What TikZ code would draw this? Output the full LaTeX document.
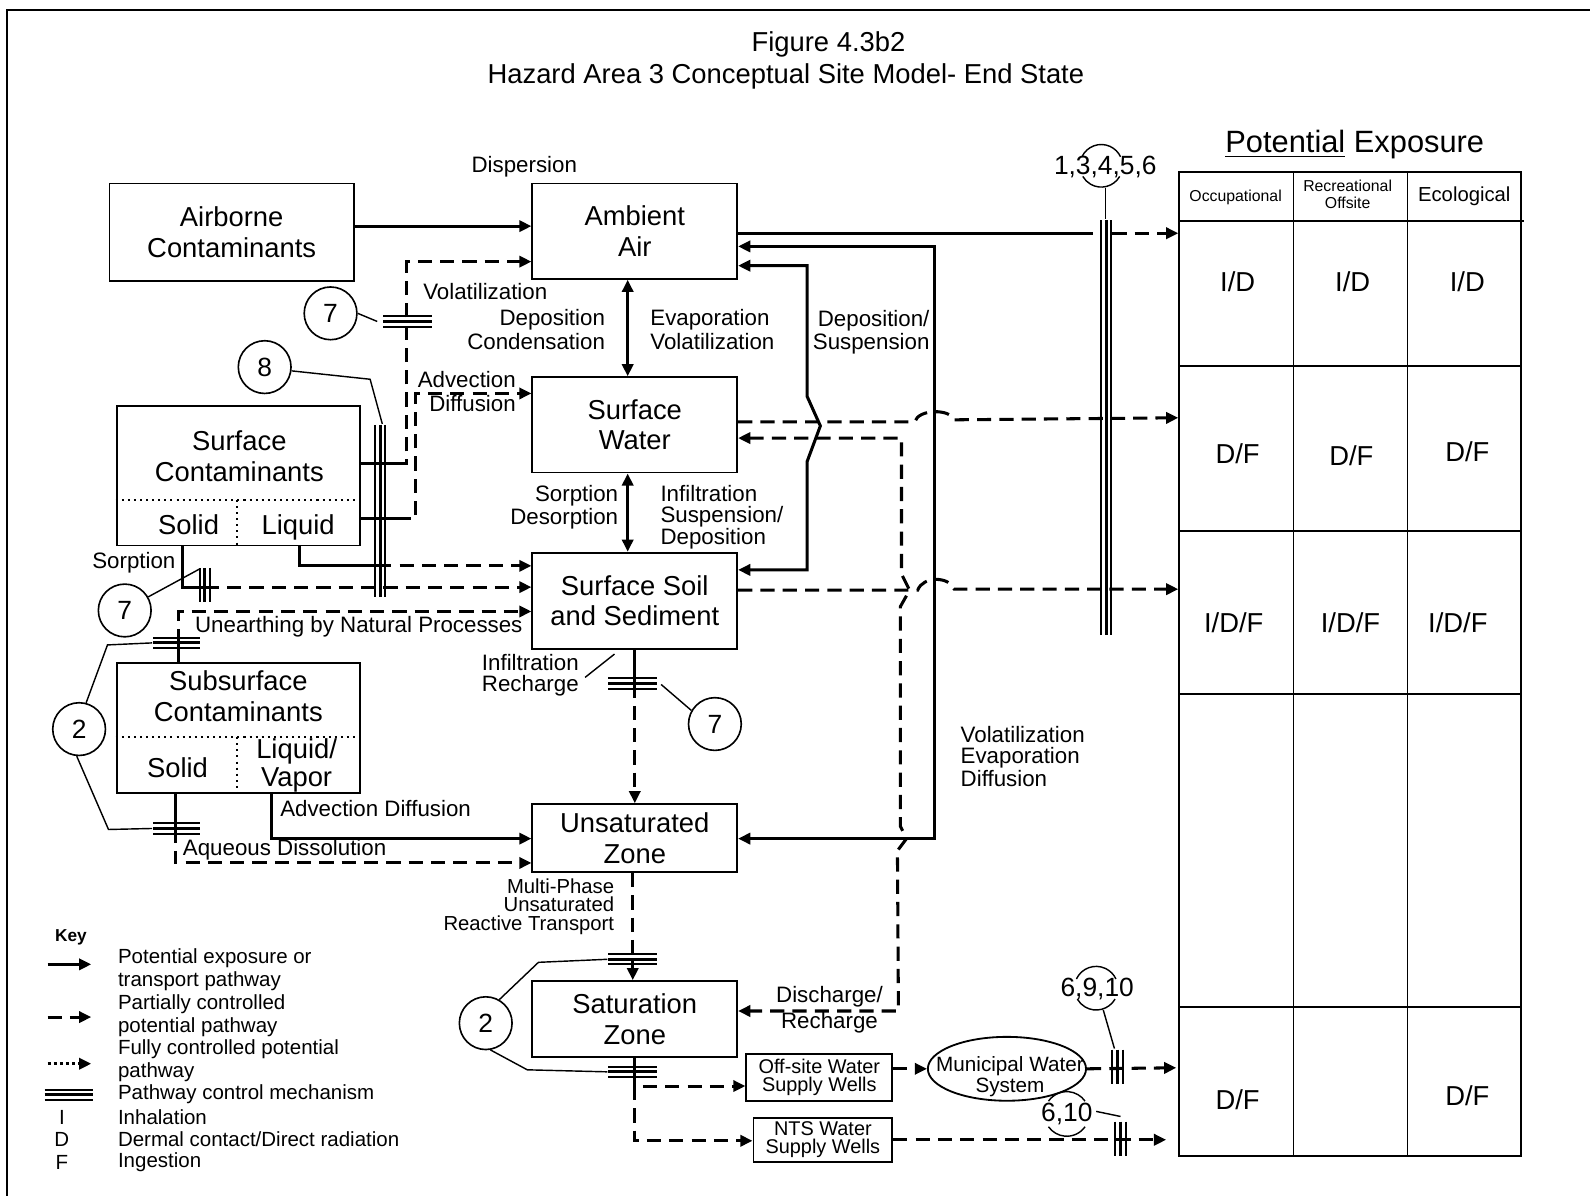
\documentclass[tikz,border=0pt]{standalone}
\usepackage{fontspec}
\setmainfont{Liberation Sans}
\usetikzlibrary{arrows.meta,shapes.geometric}
\newcommand\fsz[2]{\fontsize{#1}{#2}\selectfont}
\newcommand\bxf{\fsz{13.5}{15}}
\newcommand\lbf{\fsz{11}{12}}
\newcommand\cbarh[3]{%
  \draw[line width=1pt] ({#1-#3},{#2-5}) -- ({#1+#3},{#2-5});
  \draw[line width=1.4pt] ({#1-#3},{#2}) -- ({#1+#3},{#2});
  \draw[line width=1pt] ({#1-#3},{#2+5}) -- ({#1+#3},{#2+5});}
\newcommand\cbarv[3]{%
  \draw[line width=1pt] ({#1-5},{#2-#3}) -- ({#1-5},{#2+#3});
  \draw[line width=1.4pt] ({#1},{#2-#3}) -- ({#1},{#2+#3});
  \draw[line width=1pt] ({#1+5},{#2-#3}) -- ({#1+5},{#2+#3});}
\begin{document}
\begin{tikzpicture}[x=0.5pt,y=-0.5pt,
  box/.style={draw, line width=0.9pt, inner sep=0pt, align=center, font=\bxf},
  lab/.style={inner sep=0pt, font=\lbf},
  sline/.style={line width=1.5pt},
  dline/.style={line width=1.5pt, dash pattern=on 7pt off 4pt},
  tip/.style={-{Triangle[length=6pt,width=5.5pt]}},
  sarrow/.style={sline, tip},
  darrow/.style={dline, tip},
  both/.style={sline, {Triangle[length=6pt,width=5.5pt]}-{Triangle[length=6pt,width=5.5pt]}},
  dboth/.style={dline, {Triangle[length=6pt,width=5.5pt]}-{Triangle[length=6pt,width=5.5pt]}},
  dotarrow/.style={line width=1.5pt, dash pattern=on 1.5pt off 1.5pt, tip},
  leader/.style={line width=0.7pt},
  numc/.style={circle, draw, line width=0.8pt, minimum size=26pt, inner sep=0pt, font=\fsz{13}{15}},
  grid/.style={line width=0.9pt},
  cell/.style={inner sep=0pt, font=\fsz{13.5}{15}},
  keyt/.style={inner sep=0pt, anchor=west, font=\fsz{10.1}{11}}]
\useasboundingbox (0,0) rectangle (1568,1179);
\fill[white] (0,0) rectangle (1568,1179);

% frame
\draw[line width=1pt] (7,1179) -- (7,10) -- (1568,10);

% title
\node[lab, font=\fsz{13.5}{15}] (fig) at (817,44) {Figure 4.3b2};
\node[lab, font=\fsz{13.5}{15}] (title) at (775,75) {Hazard Area 3 Conceptual Site Model- End State};

% boxes
\node[box, minimum width=120.5pt, minimum height=48pt] (airborne) at (228.5,229) {Airborne\\Contaminants};
\node[box, minimum width=101pt, minimum height=47pt] (air) at (626,228) {Ambient\\Air};
\node[box, minimum width=101pt, minimum height=47pt] (sw) at (626,419) {Surface\\Water};
\node[box, minimum width=101pt, minimum height=47.5pt] (soil) at (626,592.5) {Surface Soil\\and Sediment};
\node[box, minimum width=120pt, minimum height=69pt] (surfc) at (235,469) {};
\node[box, minimum width=120pt, minimum height=64pt] (subc) at (235,718) {};
\node[box, minimum width=101pt, minimum height=33.5pt] (unsat) at (626,826.5) {Unsaturated\\Zone};
\node[box, minimum width=101pt, minimum height=37.5pt] (sat) at (626,1005) {Saturation\\Zone};
\node[box, font=\fsz{9.8}{8.8}, minimum width=72pt, minimum height=23.5pt] (offw) at (808,1062.5) {Off-site Water\\Supply Wells};
\node[box, font=\fsz{9.8}{8.8}, minimum width=68.5pt, minimum height=21.8pt] (ntsw) at (811.5,1124) {NTS Water\\Supply Wells};
\node[ellipse, draw, line width=0.9pt, minimum width=78pt, minimum height=31.5pt, inner sep=0pt] (muni) at (993,1054) {};
\node[lab, font=\fsz{10.2}{7.8}, align=center] (munit) at (996,1062) {Municipal Water\\System};

% surface contaminants contents
\node[lab, font=\bxf, align=center] (surft) at (236,450) {Surface\\Contaminants};
\draw[dotted, line width=1pt] (surfc.west |- 0,493) -- (surfc.east |- 0,493);
\draw[dotted, line width=1pt] (234,493) -- (234,0 |- surfc.south);
\node[lab, font=\bxf] (surfs) at (186,517) {Solid};
\node[lab, font=\bxf] (surfl) at (294,520) {Liquid};

% subsurface contaminants contents
\node[lab, font=\bxf, align=center] (subt) at (235,686.5) {Subsurface\\Contaminants};
\draw[dotted, line width=1pt] (subc.west |- 0,727) -- (subc.east |- 0,727);
\draw[dotted, line width=1pt] (234,727) -- (234,786);
\node[lab, font=\bxf] (subs) at (175,757) {Solid};
\node[lab, font=\fsz{13.5}{13.5}, align=center] (subl) at (292.5,755) {Liquid/\\Vapor};

% labels
\node[lab] (disp) at (517,164) {Dispersion};
\node[lab, anchor=west] (vol1) at (417,287) {Volatilization};
\node[lab, anchor=east, align=right] (depc) at (597,325) {Deposition\\Condensation};
\node[lab, anchor=west, align=left] (evap) at (641,325) {Evaporation\\Volatilization};
\node[lab, anchor=east, align=right, font=\fsz{11}{10}] (depsus) at (917,328) {Deposition/\\Suspension};
\node[lab, anchor=east, align=right, font=\fsz{11}{11.5}] (advd) at (509,386) {Advection\\Diffusion};
\node[lab, anchor=east, align=right, font=\fsz{11}{10}] (sorp) at (610,500.5) {Sorption\\Desorption};
\node[lab, anchor=west, align=left, font=\fsz{11}{10}] (infs) at (651,510.5) {Infiltration\\Suspension/\\Deposition};
\node[lab] (sorp2) at (132,555) {Sorption};
\node[lab, anchor=west] (unearth) at (192,618) {Unearthing by Natural Processes};
\node[lab, align=center, font=\fsz{11}{10.3}] (infr) at (523,665.5) {Infiltration\\Recharge};
\node[lab, anchor=west] (advd2) at (276,797) {Advection Diffusion};
\node[lab, anchor=west] (aqd) at (180,838) {Aqueous Dissolution};
\node[lab, anchor=west, align=left, font=\fsz{11}{10}] (ved) at (947,746) {Volatilization\\Evaporation\\Diffusion};
\node[lab, anchor=east, align=right, font=\fsz{10}{9}] (mpu) at (606,894) {Multi-Phase\\Unsaturated\\Reactive Transport};
\node[lab, align=center, font=\fsz{11}{13}] (disr) at (818,996) {Discharge/\\Recharge};

% numbered circles
\node[numc] (c7a) at (326,309) {7};
\node[numc] (c8) at (261,362) {8};
\node[numc] (c7b) at (123,602) {7};
\node[numc] (c2a) at (78,719) {2};
\node[numc] (c7c) at (705,714) {7};
\node[numc] (c2b) at (479,1009) {2};

% table
\coordinate (tA) at (1162,230);
\coordinate (tB) at (1162,412);
\coordinate (tC) at (1162,581);
\coordinate (tD) at (1160,1053);
\coordinate (tE) at (1150,1124);
\draw[grid] (1163,170) rectangle (1500,1140);
\draw[grid] (1163,218) -- (1503,218);
\draw[grid] (1163,361) -- (1500,361);
\draw[grid] (1163,524) -- (1500,524);
\draw[grid] (1163,684) -- (1500,684);
\draw[grid] (1163,993) -- (1500,993);
\draw[grid] (1275.5,170) -- (1275.5,1140);
\draw[grid] (1388,170) -- (1388,1140);
\node[lab, font=\fsz{15.2}{17}] (pexp) at (1336,143) {\underline{Potential} Exposure};
\node[lab, font=\fsz{7.8}{8.5}] (hocc) at (1218.5,195) {Occupational};
\node[lab, font=\fsz{7.8}{8.5}, align=center] (hrec) at (1329,192) {Recreational\\Offsite};
\node[lab, font=\fsz{10}{12}] (heco) at (1444,193.5) {Ecological};
\node[cell] (c11) at (1220.5,278) {I/D};
\node[cell] (c12) at (1334,278) {I/D};
\node[cell] (c13) at (1447,278) {I/D};
\node[cell] (c21) at (1220.5,447) {D/F};
\node[cell] (c22) at (1332.6,449.5) {D/F};
\node[cell] (c23) at (1447,445.5) {D/F};
\node[cell] (c31) at (1216.7,614) {I/D/F};
\node[cell] (c32) at (1331.8,614) {I/D/F};
\node[cell] (c33) at (1437.7,614) {I/D/F};
\node[cell] (c51) at (1220.5,1084) {D/F};
\node[cell] (c53) at (1447,1081) {D/F};

% exposure reference labels
\node[lab, font=\fsz{13}{15}] (e1) at (1090,165) {1,3,4,5,6};
\draw[leader] (1086,163.5) ++(205:21) arc[start angle=205, end angle=335, radius=21];
\draw[leader] (1086,163.5) ++(30:21) arc[start angle=30, end angle=150, radius=21];
\node[lab, font=\fsz{13}{15}] (e2) at (1082,975) {6,9,10};
\draw[leader] (1081,974.5) ++(205:21.5) arc[start angle=205, end angle=335, radius=21.5];
\draw[leader] (1081,974.5) ++(30:21.5) arc[start angle=30, end angle=150, radius=21.5];
\node[lab, font=\fsz{13}{15}] (e3) at (1052,1099) {6,10};
\draw[leader] (1052,1098.5) ++(215:22) arc[start angle=215, end angle=325, radius=22];
\draw[leader] (1052,1098.5) ++(35:22) arc[start angle=35, end angle=145, radius=22];

% connectors
\draw[sarrow] ([yshift=3pt]airborne.east) -- ([yshift=3pt]airborne.east -| air.west);
\draw[sline] (air.east |- tA) -- (1078,230);
\draw[darrow] (1097,230) -- (tA);
\draw[darrow] (sw.east |- 0,416) -- (902,416) .. controls (906,403) and (937,403) .. (941,414) -- (tB);
\draw[darrow] (soil.east |- 0,582) -- (905,582) .. controls (910,568) and (936,568) .. (941,581) -- (tC);
\draw[both] (air.east |- 0,243) -- (922,243) -- (922,827) -- (unsat.east |- 0,827);
\draw[both] (air.east |- 0,262) -- (796,262) -- (796,391) -- (809,420) -- (796,455) -- (796,562) -- (soil.east |- 0,562);
\draw[dboth] (sw.east |- 0,432) -- (889,432) -- (889,566) -- (897,582) -- (888,598) -- (888,815) -- (894,827) -- (885,839) -- (886,997) -- (sat.east |- 0,997);
\draw[both] ([xshift=-3.5pt]air.south) -- ([xshift=-3.5pt]sw.north);
\draw[both] ([xshift=-3.5pt]sw.south) -- ([xshift=-3.5pt]soil.north);
% from surface contaminants
\draw[sline] (surfc.east |- 0,457) -- (391,457);
\draw[darrow] (391,457) -- (401,457) -- (401,258) -- (air.west |- 0,258);
\draw[sline] (surfc.east |- 0,511) -- (391,511);
\draw[darrow] (391,511) -- (410,511) -- (410,388) -- (sw.west |- 0,388);
\draw[sline] (295,0 |- surfc.south) -- (295,558) -- (372,558);
\draw[darrow] (372,558) -- (soil.west |- 0,558);
\draw[sline] (180,0 |- surfc.south) -- (180,579) -- (202,579);
\draw[darrow] (202,579) -- (soil.west |- 0,579);
% from subsurface contaminants
\draw[sline] (176,0 |- subc.north) -- (176,634);
\draw[darrow] (176,634) -- (176,603) -- (soil.west |- 0,603);
\draw[sline] (173,0 |- subc.south) -- (173,817);
\draw[darrow] (173,817) -- (173,851) -- (unsat.west |- 0,851);
\draw[sarrow] (268,0 |- subc.south) -- (268,827) -- (unsat.west |- 0,827);
% vertical chain
\draw[sline] (soil.south) -- (626,674);
\draw[darrow] (626,674) -- (unsat.north);
\draw[dline] ([xshift=-1pt]unsat.south) -- (624,946);
\draw[sarrow] (624,946) -- ([xshift=-1pt]sat.north);
\draw[sline] (sat.south) -- (626,1057);
\draw[darrow] (626,1057) -- (626,1071) -- (offw.west |- 0,1071);
\draw[darrow] (626,1071) -- (626,1125) -- (ntsw.west |- 0,1125);
\draw[darrow] (offw.east |- muni.west) -- (muni.west);
\draw[darrow] (muni.east) -- (tD);
\draw[darrow] (ntsw.east |- tE) -- (tE);

% control bars
\cbarv{1091}{421.5}{204.5}
\cbarh{402}{317}{24}
\cbarv{375}{504}{85}
\cbarv{202}{577}{17}
\cbarh{174}{634}{23}
\cbarh{174}{817}{23}
\cbarh{624}{674}{24}
\cbarh{624}{946}{24}
\cbarh{624}{1057}{24}
\cbarv{1102}{1052}{17}
\cbarv{1105}{1123}{17}

% leaders
\draw[leader] (c7a.east) -- (372,317);
\draw[leader] (c8.-8) -- (365,374) -- (377,418);
\draw[leader] (c7b.30) -- (197,561);
\draw[leader] (c2a.75) -- (106,636) -- (150,634);
\draw[leader] (c2a.-95) -- (107,818) -- (150,817);
\draw[leader] (c7c.150) -- (652,675);
\draw[leader] (c2b.60) -- (531,949) -- (599,946);
\draw[leader] (c2b.-80) -- (520,1055) -- (599,1057);
\draw[leader] (577,668) -- (606,645);
\draw[leader] (1090,185) -- (1090,216);
\draw[leader] (1088,996) -- (1099,1034);
\draw[leader] (1081,1096) -- (1105,1101);

% key
\node[lab, font=\bfseries\fsz{8.5}{10}] (key) at (70,924.5) {Key};
\coordinate (k1a) at (47,951); \coordinate (k1b) at (90,951);
\coordinate (k2a) at (47,1003); \coordinate (k2b) at (90,1003);
\coordinate (k3a) at (47,1049); \coordinate (k3b) at (90,1049);
\draw[sarrow] (k1a) -- (k1b);
\draw[darrow] (k2a) -- (k2b);
\draw[dotarrow] (k3a) -- (k3b);
\cbarh{68}{1079.5}{24}
\node[keyt] (kt1) at (116,945) {Potential exposure or};
\node[keyt] (kt2) at (116,967.5) {transport pathway};
\node[keyt] (kt3) at (116,990) {Partially controlled};
\node[keyt] (kt4) at (116,1012.5) {potential pathway};
\node[keyt] (kt5) at (116,1035) {Fully controlled potential};
\node[keyt] (kt6) at (116,1057) {pathway};
\node[keyt] (kt7) at (116,1079.5) {Pathway control mechanism};
\node[keyt] (kt8) at (116,1101.5) {Inhalation};
\node[keyt] (kt9) at (116,1123.5) {Dermal contact/Direct radiation};
\node[keyt] (kt10) at (116,1146) {Ingestion};
\node[keyt, anchor=center] (kI) at (61,1101.5) {I};
\node[keyt, anchor=center] (kD) at (61,1123.5) {D};
\node[keyt, anchor=center] (kF) at (61,1146) {F};
\end{tikzpicture}
\end{document}
